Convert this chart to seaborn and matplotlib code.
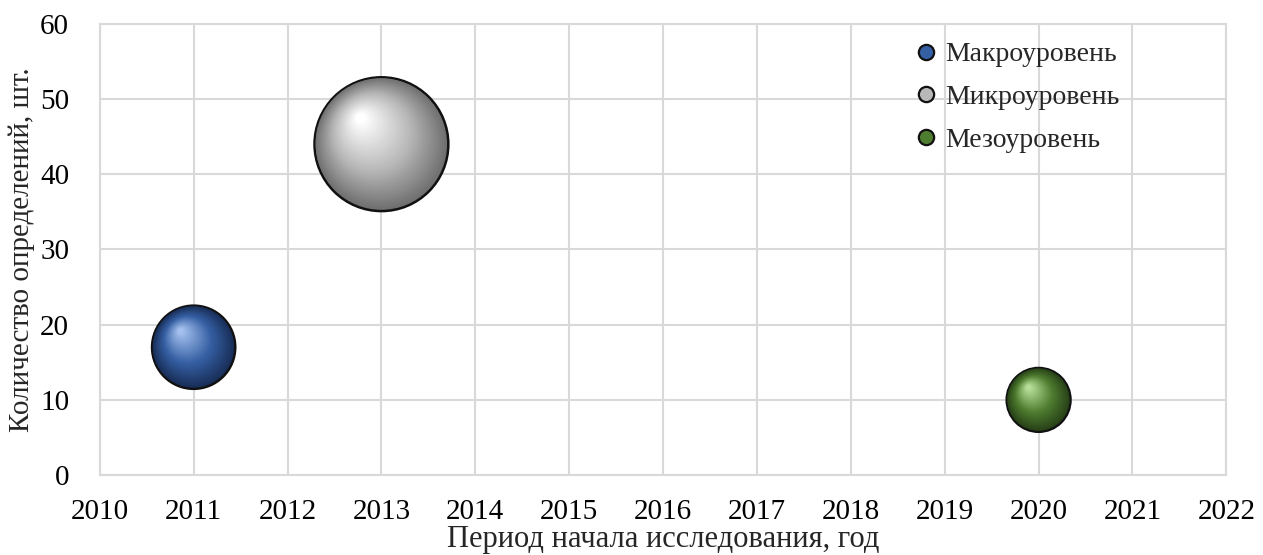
import numpy as np
import pandas as pd
import matplotlib
matplotlib.use("Agg")
import matplotlib.pyplot as plt
import matplotlib.transforms as mtransforms
from matplotlib.colors import to_rgb
from matplotlib.lines import Line2D
import seaborn as sns

# data
levels = ["Макроуровень", "Микроуровень", "Мезоуровень"]
years = [2011, 2013, 2020]
counts = [17, 44, 10]
bubble_size = [17, 44, 10]

# sphere colours: rim, body, highlight
dark_cols = ["#172c55", "#6e6e6e", "#263f17"]
body_cols = ["#355fa3", "#b8b8b8", "#4f7d30"]
light_cols = ["#a3c0ee", "#ffffff", "#b8de9a"]

df = pd.DataFrame({"level": levels, "year": years, "count": counts, "size": bubble_size})

SCALE = 211.0  # marker area (pt^2) per unit of bubble size

sns.set_style("white")
plt.rcParams["font.family"] = ["Liberation Serif", "DejaVu Serif"]

fig = plt.figure(figsize=(12.63, 5.55), dpi=100)
ax = fig.add_axes([0.079, 0.144, 0.892, 0.813])

# base spheres
sns.scatterplot(data=df, x="year", y="count", hue="level", size="size",
                palette=dict(zip(levels, dark_cols)),
                sizes=(SCALE * min(bubble_size), SCALE * max(bubble_size)),
                edgecolor="#111111", linewidth=1.8, legend=False, ax=ax, zorder=3)

# fake 3D shading: shrinking, lightening layers pulled to the upper left
n_layers = 40
for x, y, v, c0, c1, c2 in zip(years, counts, bubble_size, dark_cols, body_cols, light_cols):
    s0 = SCALE * v
    r_pt = np.sqrt(s0) / 2
    for k in range(1, n_layers + 1):
        t = k / n_layers
        frac = 1 - 0.93 * t
        if t < 0.45:
            u = t / 0.45
            col = (1 - u) * np.array(to_rgb(c0)) + u * np.array(to_rgb(c1))
        else:
            u = (t - 0.45) / 0.55
            col = (1 - u) * np.array(to_rgb(c1)) + u * np.array(to_rgb(c2))
        shift = (1 - frac) * r_pt * 0.42
        tr = mtransforms.offset_copy(ax.transData, fig=fig, x=-shift * 0.8, y=shift, units="points")
        ax.scatter([x], [y], s=s0 * frac ** 2, color=col, edgecolors="none",
                   transform=tr, zorder=3 + k * 0.01)

ax.set_xlim(2010, 2022)
ax.set_ylim(0, 60)
ax.set_xticks(range(2010, 2023))
ax.set_yticks(range(0, 61, 10))
ax.grid(True, color="#d9d9d9", linewidth=1.5)
ax.set_axisbelow(True)
for sp in ax.spines.values():
    sp.set_color("#d9d9d9")
    sp.set_linewidth(1.5)
ax.tick_params(axis="both", length=0, labelsize=21, colors="black")
ax.tick_params(axis="x", pad=17)
ax.tick_params(axis="y", pad=22)

ax.set_xlabel("Период начала исследования, год", fontsize=22, labelpad=0)
ax.set_ylabel("Количество определений, шт.", fontsize=21, labelpad=4)

handles = [Line2D([0], [0], marker="o", linestyle="none", markersize=11,
                  markerfacecolor=c, markeredgecolor="#111111", markeredgewidth=1.6)
           for c in body_cols]
ax.legend(handles, levels, loc="upper left", bbox_to_anchor=(0.706, 1.003),
          frameon=False, fontsize=20, handlelength=0.8, handletextpad=0.3,
          labelspacing=0.62, borderpad=0.2)

fig.savefig("out.png", dpi=100)
